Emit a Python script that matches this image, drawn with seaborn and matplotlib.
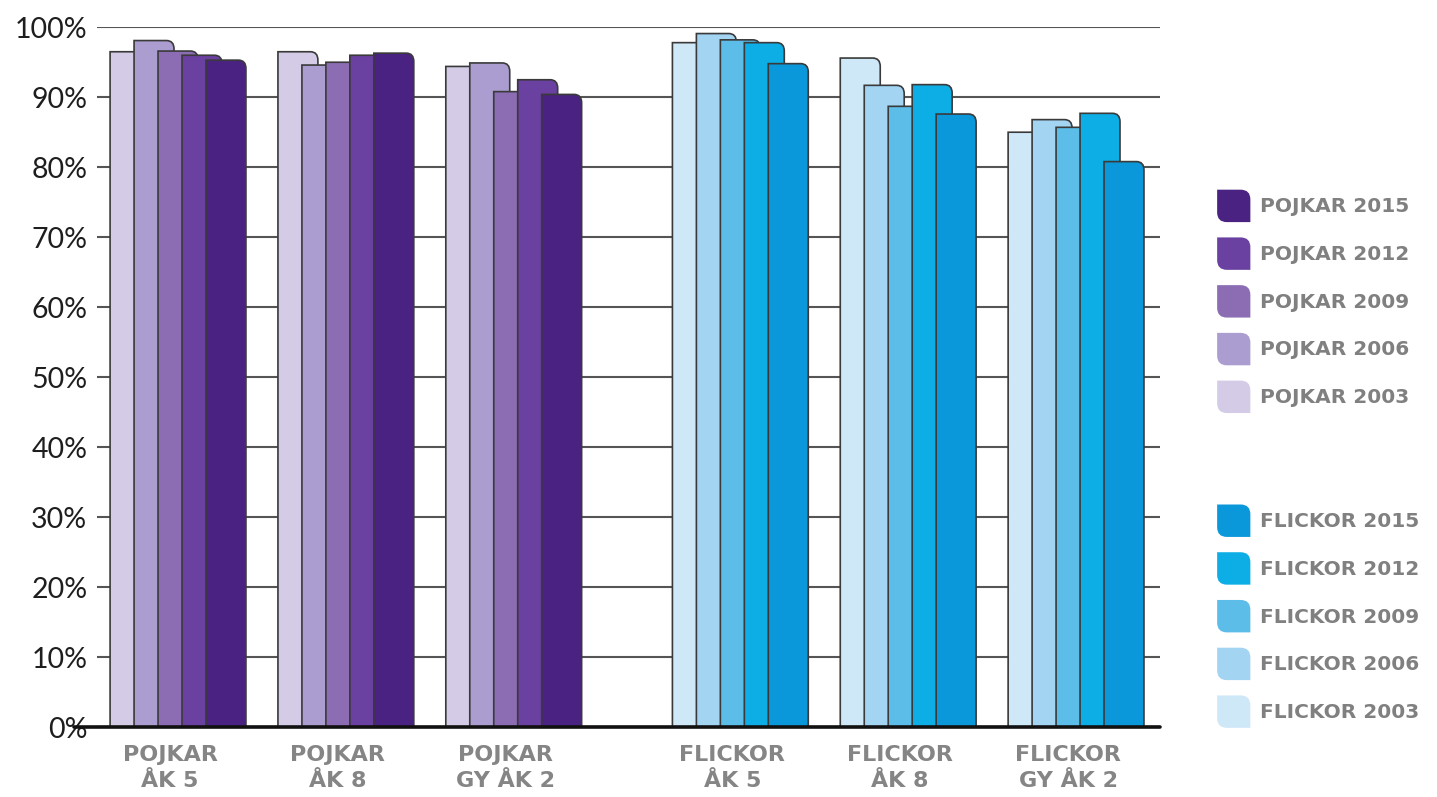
import matplotlib
matplotlib.use('Agg')
import pandas as pd
import matplotlib.pyplot as plt
import seaborn as sns
from matplotlib.path import Path
from matplotlib.patches import PathPatch, Patch
from matplotlib.legend_handler import HandlerBase


##---------------------------------------------------------------------------
# Data (avlästa värden, procent)
ar = ['2003', '2006', '2009', '2012', '2015']
grupper_pojkar = ['POJKAR\nÅK 5', 'POJKAR\nÅK 8', 'POJKAR\nGY ÅK 2']
grupper_flickor = ['FLICKOR\nÅK 5', 'FLICKOR\nÅK 8', 'FLICKOR\nGY ÅK 2']

# en lista per år, värden för ÅK 5, ÅK 8, GY ÅK 2
pojkar_2003 = [96.5, 96.5, 94.4]
pojkar_2006 = [98.1, 94.6, 94.9]
pojkar_2009 = [96.6, 95.0, 90.8]
pojkar_2012 = [96.0, 96.0, 92.5]
pojkar_2015 = [95.3, 96.3, 90.4]

flickor_2003 = [97.8, 95.6, 85.0]
flickor_2006 = [99.1, 91.7, 86.8]
flickor_2009 = [98.2, 88.7, 85.7]
flickor_2012 = [97.8, 91.8, 87.7]
flickor_2015 = [94.8, 87.6, 80.8]

yticks = [0, 10, 20, 30, 40, 50, 60, 70, 80, 90, 100]
ytick_labels = [f'{v}%' for v in yticks]

farger_pojkar = ['#d4cce6', '#ab9dcf', '#8c6db4', '#6a41a0', '#4a2282']
farger_flickor = ['#cfe8f8', '#a3d5f3', '#5dbde9', '#0caee5', '#0a98da']
##---------------------------------------------------------------------------

# x-positioner (lite extra luft mellan pojkar och flickor)
pos_pojkar = [0, 1, 2]
pos_flickor = [3.35, 4.35, 5.35]


def long_form(pos, serier):
    rader = []
    for a, vals in zip(ar, serier):
        for p, v in zip(pos, vals):
            rader.append({'pos': p, 'ar': a, 'varde': v})
    return pd.DataFrame(rader)


# legendsymbol med rundade hörn (uppe till höger och nere till vänster)
class BladHandler(HandlerBase):
    def create_artists(self, legend, orig_handle, xdescent, ydescent, width, height, fontsize, trans):
        x0, y0 = -xdescent, -ydescent
        r = 0.3 * min(width, height)
        verts = [(x0, y0 + r), (x0, y0 + height), (x0 + width - r, y0 + height),
                 (x0 + width, y0 + height), (x0 + width, y0 + height - r),
                 (x0 + width, y0), (x0 + r, y0), (x0, y0), (x0, y0 + r)]
        codes = [Path.MOVETO, Path.LINETO, Path.LINETO, Path.CURVE3, Path.CURVE3,
                 Path.LINETO, Path.LINETO, Path.CURVE3, Path.CURVE3]
        p = PathPatch(Path(verts, codes), facecolor=orig_handle.get_facecolor(),
                      edgecolor='none', transform=trans)
        return [p]


bd_pojkar = long_form(pos_pojkar, [pojkar_2003, pojkar_2006, pojkar_2009, pojkar_2012, pojkar_2015])
bd_flickor = long_form(pos_flickor, [flickor_2003, flickor_2006, flickor_2009, flickor_2012, flickor_2015])

sns.set_style('white')
plt.rcParams['font.family'] = ['DejaVu Sans']

fig = plt.figure(figsize=(14.37, 7.97), dpi=100)
ax = fig.add_axes([0.0675, 0.0878, 0.74, 0.878])

for bd, farger in [(bd_pojkar, farger_pojkar), (bd_flickor, farger_flickor)]:
    sns.barplot(data=bd, x='pos', y='varde', hue='ar', hue_order=ar, palette=farger,
                native_scale=True, width=0.714, saturation=1, errorbar=None,
                edgecolor='#3a3a3a', linewidth=1.2, legend=False, ax=ax)

# staplarna överlappar och har rundat övre högra hörn
rx, ry = 0.045, 1.2
for p in list(ax.patches):
    x0, w, h = p.get_x(), p.get_width() * 1.667, p.get_height()
    verts = [(x0, 0), (x0, h), (x0 + w - rx, h), (x0 + w, h), (x0 + w, h - ry), (x0 + w, 0), (x0, 0)]
    codes = [Path.MOVETO, Path.LINETO, Path.LINETO, Path.CURVE3, Path.CURVE3, Path.LINETO, Path.CLOSEPOLY]
    ny = PathPatch(Path(verts, codes), facecolor=p.get_facecolor(), edgecolor='#3a3a3a',
                   linewidth=1.2, zorder=2)
    p.remove()
    ax.add_patch(ny)

ax.set_xlim(-0.435, 5.90)
ax.set_ylim(0, 100)
ax.set_yticks(yticks)
ax.set_yticklabels(ytick_labels, fontsize=20.5, color='#1e1e1e', family=['Lato', 'DejaVu Sans'])
ax.set_xticks(pos_pojkar + pos_flickor)
ax.set_xticklabels(grupper_pojkar + grupper_flickor, fontsize=16, fontweight='bold',
                   color='#858585', linespacing=1.4)
ax.tick_params(axis='both', length=0)
ax.tick_params(axis='y', pad=7)
ax.tick_params(axis='x', pad=13)
ax.set_xlabel('')
ax.set_ylabel('')
ax.yaxis.grid(True, color='#555555', linewidth=1.5)
ax.xaxis.grid(False)
ax.set_axisbelow(True)
sns.despine(ax=ax, left=True, bottom=True)
ax.axhline(0, xmin=-0.022, xmax=1, color='#111111', linewidth=2.6, clip_on=False, zorder=5)

# legender
handles_p = [Patch(facecolor=c, edgecolor='none', label=f'POJKAR {a}') for a, c in zip(ar, farger_pojkar)][::-1]
handles_f = [Patch(facecolor=c, edgecolor='none', label=f'FLICKOR {a}') for a, c in zip(ar, farger_flickor)][::-1]
for handles, ytop in [(handles_p, 0.762), (handles_f, 0.367)]:
    fig.legend(handles=handles, loc='upper left', bbox_to_anchor=(0.847, ytop), frameon=False,
               borderpad=0, borderaxespad=0, handlelength=1.65, handleheight=2.1,
               handletextpad=0.5, labelspacing=0.76,
               handler_map={Patch: BladHandler()},
               prop={'size': 14.5, 'weight': 'bold'}, labelcolor='#808080')

plt.savefig('out.png', dpi=100)
